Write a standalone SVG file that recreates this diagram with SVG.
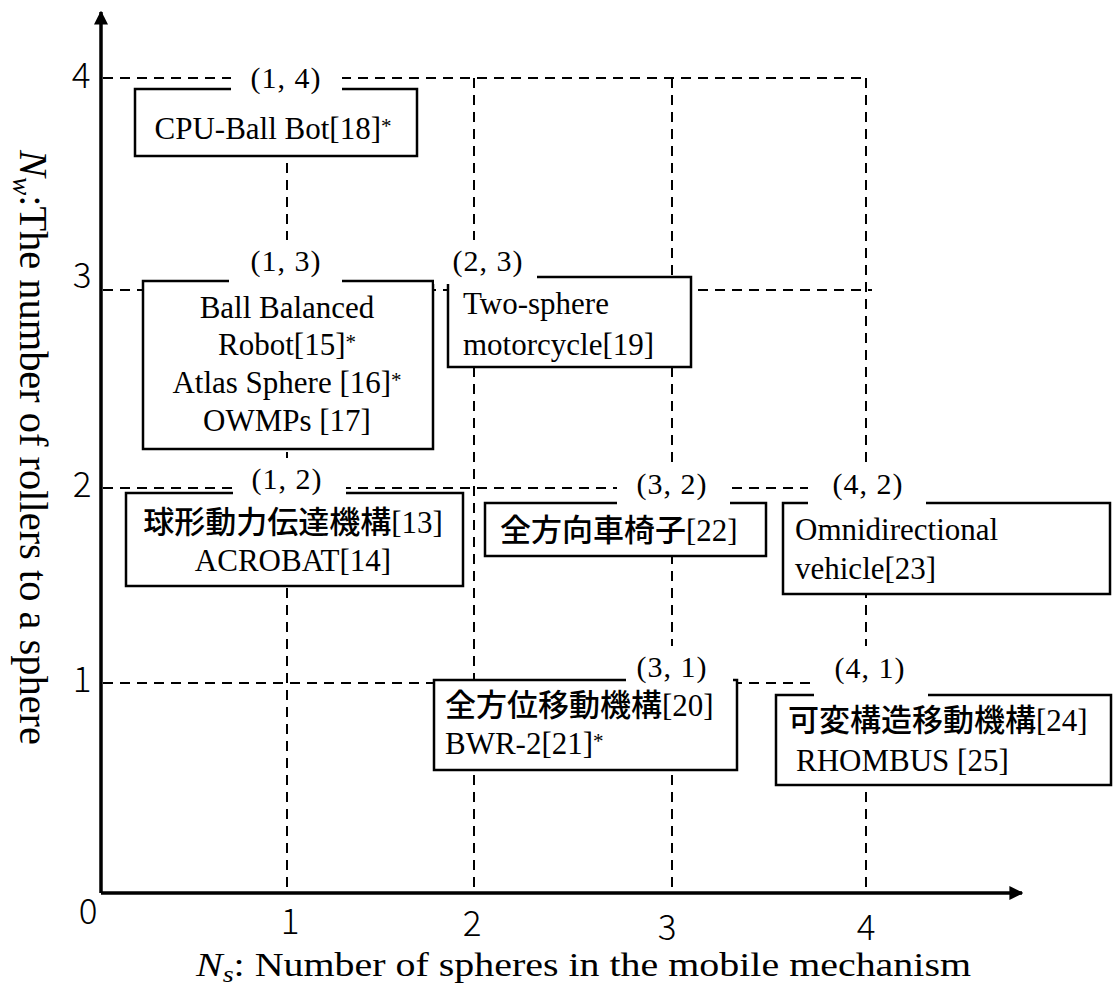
<svg xmlns="http://www.w3.org/2000/svg" width="1115" height="988" viewBox="0 0 1115 988">
  <defs>
    <marker id="arrow" viewBox="0 0 10 10" refX="9" refY="5" markerWidth="4" markerHeight="4" orient="auto" markerUnits="strokeWidth">
      <path d="M0,0 L10,5 L0,10 z" fill="#000"/>
    </marker>
  </defs>
  <style>
    .ax { stroke: #000; stroke-width: 3.5; fill: none; }
    .grid { stroke: #000; stroke-width: 2; stroke-dasharray: 10 7; fill: none; }
    .box { fill: #fff; stroke: #000; stroke-width: 2.5; }
    .patch { fill: #fff; stroke: none; }
    .t { font-family: "Liberation Serif", "Times New Roman", serif; font-size: 31px; fill: #000; }
    .jp { font-family: "Noto Sans CJK JP", sans-serif; font-size: 31px; font-weight: 500; }
    .lbl { font-family: "Liberation Serif", "Times New Roman", serif; font-size: 30px; fill: #000; text-anchor: middle; letter-spacing: 1px; }
    .tick { font-family: "Noto Sans CJK JP", "Noto Sans", sans-serif; font-weight: 300; font-size: 35px; fill: #000; text-anchor: middle; }
    .axl { font-family: "Liberation Serif", "Times New Roman", serif; fill: #000; }
    .sup { font-size: 21px; }
  </style>

  <!-- grid / connectors -->
  <g id="connectors">
    <line class="grid" x1="103" y1="78" x2="866" y2="78"/>
    <line class="grid" x1="103" y1="290" x2="872" y2="290"/>
    <line class="grid" x1="103" y1="488" x2="866" y2="488"/>
    <line class="grid" x1="103" y1="683" x2="866" y2="683"/>
    <line class="grid" x1="287" y1="78" x2="287" y2="892"/>
    <line class="grid" x1="474" y1="78" x2="474" y2="892"/>
    <line class="grid" x1="672" y1="78" x2="672" y2="892"/>
    <line class="grid" x1="866" y1="78" x2="866" y2="892"/>
  </g>

  <!-- axes -->
  <g id="axes">
    <line class="ax" x1="101" y1="893" x2="101" y2="12" marker-end="url(#arrow)"/>
    <line class="ax" x1="101" y1="893" x2="1022" y2="893" marker-end="url(#arrow)"/>
    <text class="tick" x="88" y="924">0</text>
    <text class="tick" x="290" y="934">1</text>
    <text class="tick" x="472" y="936">2</text>
    <text class="tick" x="667" y="940">3</text>
    <text class="tick" x="866" y="940">4</text>
    <text class="tick" x="81" y="88">4</text>
    <text class="tick" x="82" y="288">3</text>
    <text class="tick" x="82" y="497">2</text>
    <text class="tick" x="82" y="692">1</text>
    <text class="axl" x="196" y="976" font-size="34" textLength="775" lengthAdjust="spacingAndGlyphs"><tspan font-style="italic">N</tspan><tspan font-style="italic" font-size="24" dy="6">s</tspan><tspan dy="-6">: Number of spheres in the mobile mechanism</tspan></text>
    <text class="axl" transform="translate(20,150) rotate(90)" font-size="40" textLength="595" lengthAdjust="spacingAndGlyphs"><tspan font-style="italic">N</tspan><tspan font-style="italic" font-size="27" dy="7">w</tspan><tspan dy="-7">:The number of rollers to a sphere</tspan></text>
  </g>

  <!-- (1,4) -->
  <g id="node-1-4">
    <rect class="box" x="135" y="89" width="282" height="67"/>
    <rect class="patch" x="231" y="55" width="111" height="40"/>
    <text class="lbl" x="286" y="88">(1, 4)</text>
    <text class="t" x="273" y="139" text-anchor="middle">CPU-Ball Bot[18]<tspan class="sup" dy="-6">*</tspan></text>
  </g>

  <!-- (1,3) -->
  <g id="node-1-3">
    <rect class="box" x="143" y="281" width="290" height="168"/>
    <rect class="patch" x="229" y="240" width="113" height="46"/>
    <text class="lbl" x="286" y="271">(1, 3)</text>
    <text class="t" x="287" y="318" text-anchor="middle">Ball Balanced</text>
    <text class="t" x="287" y="355" text-anchor="middle">Robot[15]<tspan class="sup" dy="-6">*</tspan></text>
    <text class="t" x="287" y="393" text-anchor="middle">Atlas Sphere [16]<tspan class="sup" dy="-6">*</tspan></text>
    <text class="t" x="287" y="431" text-anchor="middle">OWMPs [17]</text>
  </g>

  <!-- (2,3) -->
  <g id="node-2-3">
    <rect class="box" x="448" y="277" width="243" height="90"/>
    <rect class="patch" x="434" y="240" width="103" height="44"/>
    <text class="lbl" x="488" y="271">(2, 3)</text>
    <text class="t" x="463" y="314">Two-sphere</text>
    <text class="t" x="463" y="355">motorcycle[19]</text>
  </g>

  <!-- (1,2) -->
  <g id="node-1-2">
    <rect class="box" x="126" y="493" width="337" height="93"/>
    <rect class="patch" x="233" y="458" width="113" height="40"/>
    <text class="lbl" x="287" y="489">(1, 2)</text>
    <text class="t" x="293" y="533" text-anchor="middle"><tspan class="jp">球形動力伝達機構</tspan>[13]</text>
    <text class="t" x="293" y="571" text-anchor="middle">ACROBAT[14]</text>
  </g>

  <!-- (3,2) -->
  <g id="node-3-2">
    <rect class="box" x="485" y="503" width="281" height="53"/>
    <rect class="patch" x="617" y="462" width="113" height="46"/>
    <text class="lbl" x="672" y="494">(3, 2)</text>
    <text class="t" x="500" y="541"><tspan class="jp">全方向車椅子</tspan>[22]</text>
  </g>

  <!-- (4,2) -->
  <g id="node-4-2">
    <rect class="box" x="783" y="503" width="327" height="91"/>
    <rect class="patch" x="808" y="462" width="118" height="46"/>
    <text class="lbl" x="868" y="494">(4, 2)</text>
    <text class="t" x="795" y="540">Omnidirectional</text>
    <text class="t" x="795" y="579">vehicle[23]</text>
  </g>

  <!-- (3,1) -->
  <g id="node-3-1">
    <rect class="box" x="434" y="680" width="303" height="90"/>
    <rect class="patch" x="626" y="646" width="107" height="39"/>
    <text class="lbl" x="672" y="677">(3, 1)</text>
    <text class="t" x="445" y="716"><tspan class="jp">全方位移動機構</tspan>[20]</text>
    <text class="t" x="445" y="754">BWR-2[21]<tspan class="sup" dy="-6">*</tspan></text>
  </g>

  <!-- (4,1) -->
  <g id="node-4-1">
    <rect class="box" x="776" y="695" width="335" height="90"/>
    <rect class="patch" x="814" y="646" width="114" height="55"/>
    <text class="lbl" x="870" y="678">(4, 1)</text>
    <text class="t" x="788" y="731"><tspan class="jp">可変構造移動機構</tspan>[24]</text>
    <text class="t" x="796" y="771">RHOMBUS [25]</text>
  </g>
</svg>
